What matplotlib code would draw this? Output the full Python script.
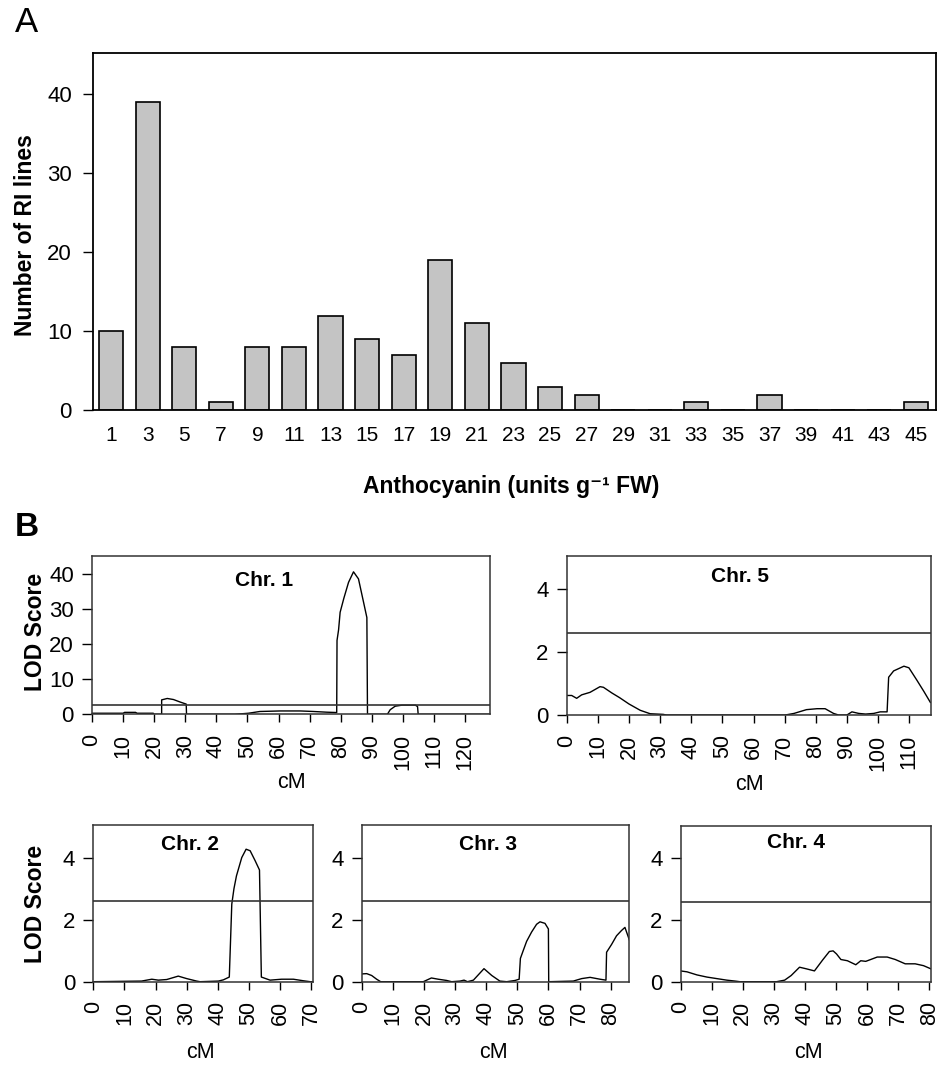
import matplotlib
matplotlib.use('Agg')
import matplotlib.pyplot as plt

plt.rcParams['font.family'] = ['Liberation Sans', 'DejaVu Sans']

# ==================== Panel A data ====================
anthocyanin_bins = ['1', '3', '5', '7', '9', '11', '13', '15', '17', '19', '21', '23',
                    '25', '27', '29', '31', '33', '35', '37', '39', '41', '43', '45']
ri_line_counts = [10, 39, 8, 1, 8, 8, 12, 9, 7, 19, 11, 6, 3, 2, 0, 0, 1, 0, 2, 0, 0, 0, 1]

# ==================== Panel B data ====================
lod_threshold = 2.6

chr1_cm = [0, 10, 10.5, 14, 14.5, 19.7, 19.8, 22.4, 22.4, 24.2, 26.2, 28.3, 30.3, 30.4,
           46, 50.3, 54, 60.5, 67, 71.2, 75.5, 78.7, 78.8, 79.3, 79.8, 81, 82.5, 84.1,
           85.7, 87.3, 88.4, 88.6, 95.0, 95.9, 97.5, 99.7, 104, 104.7, 104.9, 128]
chr1_lod = [0.3, 0.3, 0.55, 0.55, 0.3, 0.3, 0, 0, 4.1, 4.5, 4.2, 3.5, 2.9, 0,
            0, 0.3, 0.8, 0.95, 0.95, 0.8, 0.6, 0.5, 21, 24, 29, 33, 37.5, 40.5,
            38.5, 32, 27.5, 0, 0, 1.3, 2.3, 2.6, 2.6, 2.2, 0, 0]

chr5_cm = [0, 1.6, 3.2, 4.8, 7.5, 10.7, 11.8, 14.5, 17, 20, 23.6, 26.8, 31, 32, 70.2,
           73, 77, 80.4, 83, 85.7, 87.3, 90, 91.6, 93.8, 96, 98.6, 100.7, 102.9, 103.4,
           105, 108.3, 109.9, 112.5, 114.7, 116.8]
chr5_lod = [0.62, 0.62, 0.53, 0.64, 0.72, 0.9, 0.88, 0.7, 0.55, 0.35, 0.15, 0.04, 0.02, 0, 0,
            0.05, 0.17, 0.2, 0.2, 0.05, 0, 0, 0.1, 0.05, 0.03, 0.05, 0.1, 0.1, 1.2,
            1.4, 1.55, 1.5, 1.1, 0.75, 0.4]

chr2_cm = [0, 15.5, 18.8, 20.9, 23.6, 27.3, 30, 33.2, 34.3, 40.2, 41.8, 43.7, 44.5, 45.2,
           46, 47.7, 49.1, 50.4, 52, 53.4, 54, 56.8, 60.5, 64.3, 67.5, 69.7, 71]
chr2_lod = [0, 0.02, 0.08, 0.05, 0.07, 0.18, 0.1, 0.02, 0, 0.02, 0.06, 0.15, 2.5, 3.0,
            3.41, 4.0, 4.27, 4.22, 3.9, 3.6, 0.15, 0.05, 0.08, 0.08, 0.03, 0, 0]

chr3_cm = [0, 1.6, 3.2, 4.8, 6.1, 19.8, 22.4, 24.6, 27.3, 28.9, 31.6, 32.9, 34, 35.9,
           39.3, 41.8, 44.4, 46.6, 49.3, 50.6, 51, 51.9, 53, 54.6, 56.2, 57.3, 58.9, 60,
           60.1, 68, 70.7, 73.4, 76.6, 78.5, 78.7, 80.3, 81.9, 83.5, 84.6, 86]
chr3_lod = [0.25, 0.26, 0.2, 0.08, 0, 0, 0.12, 0.08, 0.04, 0, 0.02, 0.05, 0, 0.05,
            0.42, 0.2, 0.02, 0, 0.04, 0.08, 0.75, 1.0, 1.3, 1.6, 1.85, 1.93, 1.88, 1.7,
            0, 0.02, 0.1, 0.14, 0.08, 0.05, 0.95, 1.2, 1.48, 1.65, 1.75, 1.35]

chr4_cm = [0, 2.1, 5.3, 8.5, 11.7, 14.9, 17.6, 19.1, 30.9, 33.5, 35.6, 38.3, 40.4, 43.1,
           45.7, 47.9, 49.1, 50.2, 51.6, 53.7, 56.4, 58, 59.6, 61.2, 63.3, 66.5, 69.1,
           72.3, 75.5, 78.2, 80.5]
chr4_lod = [0.35, 0.32, 0.22, 0.15, 0.1, 0.05, 0.02, 0, 0, 0.05, 0.2, 0.47, 0.42, 0.35,
            0.7, 0.98, 1.0, 0.9, 0.72, 0.68, 0.55, 0.68, 0.66, 0.72, 0.8, 0.8, 0.72,
            0.58, 0.58, 0.52, 0.42]

# ==================== 画布 ====================
W, H = 946, 1066
fig = plt.figure(figsize=(W / 100, H / 100), dpi=100)


def px_axes(x0, x1, y0, y1):
    """按像素坐标(左, 右, 上, 下)放置坐标轴"""
    return fig.add_axes([x0 / W, 1 - y1 / H, (x1 - x0) / W, (y1 - y0) / H])


def px_text(x, y, s, **kw):
    fig.text(x / W, 1 - y / H, s, **kw)


# ==================== Panel A ====================
ax = px_axes(92.7, 936, 53.3, 410.3)
ax.bar(range(len(ri_line_counts)), ri_line_counts, width=0.66,
       color='#c4c4c4', edgecolor='black', linewidth=1.2)
ax.set_xlim(-0.5, len(ri_line_counts) - 0.45)
ax.set_ylim(0, 45.2)
ax.set_yticks([0, 10, 20, 30, 40])
ax.set_xticks(range(len(anthocyanin_bins)))
ax.set_xticklabels(anthocyanin_bins)
ax.tick_params(axis='x', length=0, pad=11, labelsize=15)
ax.tick_params(axis='y', length=7, width=1, pad=8, labelsize=16)
for sp in ax.spines.values():
    sp.set_linewidth(1.3)

px_text(15, 22, 'A', fontsize=25, ha='left', va='center')
px_text(25, 235, 'Number of RI lines', fontsize=16.5, fontweight='bold',
        rotation=90, ha='center', va='center')
px_text(511, 487, 'Anthocyanin (units g\u207b\u00b9 FW)', fontsize=16.5,
        fontweight='bold', ha='center', va='center')

# ==================== Panel B ====================
panels = [
    # (cm, lod, xlim, xticks, ylim, yticks, box, title, title_xy, cm_xy)
    (chr1_cm, chr1_lod, 128, range(0, 121, 10), 45, [0, 10, 20, 30, 40],
     (92, 490, 556, 714.3), 'Chr. 1', (264, 580), (291, 782)),
    (chr5_cm, chr5_lod, 117, range(0, 111, 10), 5.05, [0, 2, 4],
     (566.7, 931, 556, 715), 'Chr. 5', (740, 576), (749, 785)),
    (chr2_cm, chr2_lod, 70.5, range(0, 71, 10), 5.05, [0, 2, 4],
     (93.3, 312.7, 825, 981.7), 'Chr. 2', (190, 845), (200, 1053)),
    (chr3_cm, chr3_lod, 86, range(0, 81, 10), 5.05, [0, 2, 4],
     (361.7, 629.3, 825, 981.7), 'Chr. 3', (488, 845), (493, 1053)),
    (chr4_cm, chr4_lod, 80.5, range(0, 81, 10), 5.05, [0, 2, 4],
     (680.5, 930.7, 826, 981.7), 'Chr. 4', (796, 843), (808, 1053)),
]

for cm, lod, xmax, xt, ymax, yt, box, title, txy, cxy in panels:
    a = px_axes(*box)
    a.plot(cm, lod, color='black', linewidth=1.0)
    a.axhline(lod_threshold, color='#333333', linewidth=1.2)
    a.set_xlim(0, xmax)
    a.set_ylim(0, ymax)
    a.set_xticks(list(xt))
    a.set_yticks(yt)
    a.tick_params(axis='x', length=6, width=1, pad=8, labelsize=15.5, labelrotation=90)
    a.tick_params(axis='y', length=7, width=1, pad=6, labelsize=16)
    for sp in a.spines.values():
        sp.set_linewidth(1.1)
        sp.set_color('#333333')
    px_text(txy[0], txy[1], title, fontsize=15, fontweight='bold',
            ha='center', va='center')
    px_text(cxy[0], cxy[1], 'cM', fontsize=15.5, ha='center', va='center')

px_text(15, 527, 'B', fontsize=24, fontweight='bold', ha='left', va='center')
px_text(36, 632, 'LOD Score', fontsize=16.5, fontweight='bold',
        rotation=90, ha='center', va='center')
px_text(36, 904, 'LOD Score', fontsize=16.5, fontweight='bold',
        rotation=90, ha='center', va='center')

fig.savefig('out.png', dpi=100, facecolor='white')
